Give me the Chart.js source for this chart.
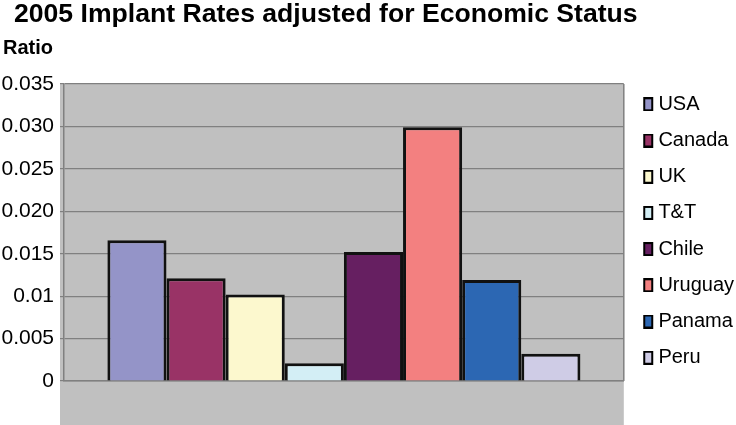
<!DOCTYPE html>
<html lang="en">
<head>
  <meta charset="UTF-8" />
  <title>2005 Implant Rates</title>
  <script src="https://cdn.jsdelivr.net/npm/chart.js"></script>
  <style>
    body { margin: 0; background: #fff; font-family: "Liberation Sans", Arial, sans-serif; }
    .wrap { position: relative; width: 736px; height: 425px; }
    #title { position: absolute; left: 14px; top: 0px; font-size: 26.6px; line-height: 1; font-weight: bold; color: #000; white-space: nowrap; }
    #ytitle { position: absolute; left: 3px; top: 37px; font-size: 20px; line-height: 1; font-weight: bold; color: #000; }
    canvas { position: absolute; left: 0; top: 0; }
  </style>
</head>
<body>
  <div class="wrap">
    <canvas id="implantChart" width="736" height="425"></canvas>
    <div id="title">2005 Implant Rates adjusted for Economic Status</div>
    <div id="ytitle">Ratio</div>
  </div>

  <script>
    // data
    const countries = ['USA', 'Canada', 'UK', 'T&T', 'Chile', 'Uruguay', 'Panama', 'Peru'];
    const ratios = [0.0166, 0.0121, 0.0102, 0.0021, 0.0152, 0.0299, 0.0119, 0.0032];
    const barColors = ['#9494c8', '#993366', '#fcf8ce', '#d3eef5', '#661f61', '#f38080', '#2c67b3', '#cfcce6'];
    const tickValues = [0, 0.005, 0.01, 0.015, 0.02, 0.025, 0.03, 0.035];
    const tickLabels = ['0', '0.005', '0.01', '0.015', '0.020', '0.025', '0.030', '0.035'];

    // small legend swatch, box sits on the right side of the image so the
    // text ends up close to it like in the excel legend
    function swatch(color) {
      const c = document.createElement('canvas');
      c.width = 20;
      c.height = 14;
      const g = c.getContext('2d');
      g.fillStyle = color;
      g.fillRect(9, 0, 10, 14);
      g.strokeStyle = '#000';
      g.lineWidth = 2;
      g.strokeRect(10, 1, 8, 12);
      return c;
    }

    // grey plot background, runs down below the axis like the excel original
    const plotBg = {
      id: 'plotBg',
      beforeDraw(chart) {
        const { ctx, chartArea } = chart;
        ctx.save();
        ctx.fillStyle = '#c0c0c0';
        ctx.fillRect(chartArea.left - 4, chartArea.top, chartArea.right - chartArea.left + 4, chart.height - chartArea.top);
        ctx.restore();
      },
      afterDatasetsDraw(chart) {
        const { ctx, chartArea } = chart;
        ctx.save();
        ctx.strokeStyle = '#808080';
        ctx.lineWidth = 1.5;
        ctx.beginPath();
        ctx.moveTo(chartArea.right, chartArea.top);
        ctx.lineTo(chartArea.right, chartArea.bottom);
        ctx.stroke();
        ctx.restore();
      }
    };

    const ctx = document.getElementById('implantChart').getContext('2d');

    const chart = new Chart(ctx, {
      type: 'bar',
      data: {
        labels: [''],
        datasets: countries.map((c, i) => ({
          label: c,
          data: [ratios[i]],
          backgroundColor: barColors[i],
          borderColor: '#111',
          borderWidth: 3,
          pointStyle: swatch(barColors[i])
        }))
      },
      options: {
        responsive: false,
        animation: false,
        layout: { padding: { top: 77, bottom: 40, left: 0, right: -8 } },
        datasets: { bar: { categoryPercentage: 0.845, barPercentage: 1 } },
        plugins: {
          title: { display: false },
          tooltip: { enabled: false },
          legend: {
            position: 'right',
            labels: {
              usePointStyle: true,
              pointStyleWidth: 8.4,
              padding: 16.2,
              color: '#000',
              font: { family: 'Liberation Sans', size: 20 }
            }
          }
        },
        scales: {
          x: {
            ticks: { display: false },
            grid: { display: false, drawTicks: true, tickLength: 4 },
            border: { display: true, color: '#808080', width: 1.5 }
          },
          // empty spacer axis on top, only there to push the plot down
          xTop: {
            position: 'top',
            ticks: { display: false },
            grid: { display: false, drawTicks: true, tickLength: 7 },
            border: { display: false }
          },
          y: {
            min: 0,
            max: 0.035,
            afterFit(scale) { scale.width = 64; },
            afterBuildTicks(scale) { scale.ticks = tickValues.map(v => ({ value: v })); },
            ticks: {
              color: '#000',
              padding: 6,
              font: { family: 'Liberation Sans', size: 21 },
              callback: (v, i) => tickLabels[i]
            },
            grid: { color: '#808080', lineWidth: 1.2, tickLength: 4 },
            border: { color: '#808080', width: 1.5 }
          }
        }
      },
      plugins: [plotBg]
    });
  </script>
</body>
</html>
